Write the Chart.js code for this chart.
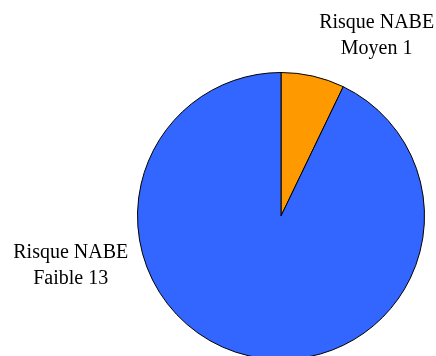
<!DOCTYPE html>
<html>
<head>
<meta charset="utf-8">
<script src="https://cdn.jsdelivr.net/npm/chart.js@4.4.0/dist/chart.umd.min.js"></script>
<style>
  html, body { margin: 0; padding: 0; background: #ffffff; overflow: hidden; }
  #wrap { width: 436px; height: 360px; position: relative; }
</style>
</head>
<body>
<div id="wrap"><canvas id="chart"></canvas></div>
<script>
// categories and values
const categories = ["Risque NABE Moyen", "Risque NABE Faible"];
const counts = [1, 13];
const sliceColors = ['#FF9900', '#3366FF'];

// label anchor: angle (deg, canvas coords) and distance as multiple of radius
const labelAngles = [-62, 166.8];
const labelDist = [1.42, 1.505];

const ctx = document.getElementById('chart').getContext('2d');

const outsideLabels = {
  id: 'outsideLabels',
  afterDatasetsDraw(chart) {
    const c = chart.ctx;
    const meta = chart.getDatasetMeta(0);
    c.save();
    c.fillStyle = '#000000';
    c.font = '20px "Liberation Serif", "Times New Roman", serif';
    c.textAlign = 'center';
    c.textBaseline = 'middle';
    meta.data.forEach(function(arc, i) {
      const a = labelAngles[i] * Math.PI / 180;
      const r = arc.outerRadius * labelDist[i];
      const x = arc.x + Math.cos(a) * r;
      const y = arc.y + Math.sin(a) * r;
      const words = categories[i].split(' ');
      const line1 = words.slice(0, 2).join(' ');
      const line2 = words.slice(2).join(' ') + ' ' + counts[i];
      c.fillText(line1, x, y - 13);
      c.fillText(line2, x, y + 13);
    });
    c.restore();
  }
};

var chart = new Chart(ctx, {
  type: 'pie',
  data: {
    labels: categories,
    datasets: [{
      data: counts,
      backgroundColor: sliceColors,
      borderColor: '#000000',
      borderWidth: 1
    }]
  },
  options: {
    responsive: true,
    maintainAspectRatio: false,
    animation: false,
    layout: { padding: { top: 72, left: 137, right: 11, bottom: 0 } },
    plugins: {
      legend: { display: false },
      tooltip: { enabled: false }
    }
  },
  plugins: [outsideLabels]
});
</script>
</body>
</html>
